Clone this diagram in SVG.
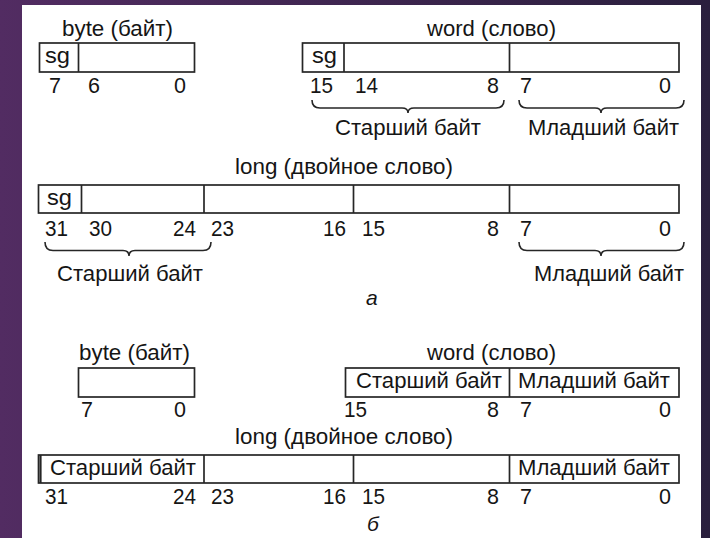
<svg xmlns="http://www.w3.org/2000/svg" width="710" height="538" viewBox="0 0 710 538">
<defs>
<linearGradient id="bg" x1="0" y1="0" x2="1" y2="0">
<stop offset="0" stop-color="#522c62"/>
<stop offset="1" stop-color="#2a1f3d"/>
</linearGradient>
<style>
.t{font-family:"Liberation Sans",Arial,sans-serif;font-size:22.5px;fill:#151515}
.n{font-family:"Liberation Sans",Arial,sans-serif;font-size:21.5px;fill:#151515}
.i{font-family:"Liberation Sans",Arial,sans-serif;font-size:21px;font-style:italic;fill:#151515}
.box{fill:#fff;stroke:#262626;stroke-width:1.7}
.div{stroke:#262626;stroke-width:1.7}
.br{fill:none;stroke:#262626;stroke-width:1.6}
</style>
</defs>
<rect x="0" y="0" width="710" height="538" fill="url(#bg)"/>
<rect x="22" y="5" width="679" height="533" fill="#fff"/>

<!-- part a -->
<g id="byte-a">
<text class="t" x="62" y="35.5" textLength="111" lengthAdjust="spacingAndGlyphs">byte (байт)</text>
<rect class="box" x="39.5" y="43" width="155" height="29"/>
<line class="div" x1="78.5" y1="43" x2="78.5" y2="72"/>
<text class="t" x="45" y="63" textLength="25" lengthAdjust="spacingAndGlyphs">sg</text>
<text class="n" x="49" y="93">7</text>
<text class="n" x="88" y="93">6</text>
<text class="n" x="174" y="93">0</text>
</g>

<g id="word-a">
<text class="t" x="427" y="35.5" textLength="129" lengthAdjust="spacingAndGlyphs">word (слово)</text>
<rect class="box" x="302.5" y="43" width="376.5" height="29"/>
<line class="div" x1="344" y1="43" x2="344" y2="72"/>
<line class="div" x1="509.5" y1="43" x2="509.5" y2="72"/>
<text class="t" x="312" y="63" textLength="25" lengthAdjust="spacingAndGlyphs">sg</text>
<text class="n" x="310" y="93" textLength="23" lengthAdjust="spacingAndGlyphs">15</text>
<text class="n" x="355" y="93" textLength="23" lengthAdjust="spacingAndGlyphs">14</text>
<text class="n" x="487" y="93">8</text>
<text class="n" x="520" y="93">7</text>
<text class="n" x="659" y="93">0</text>
<text class="t" x="335" y="135" textLength="146" lengthAdjust="spacingAndGlyphs">Старший байт</text>
<text class="t" x="528" y="135" textLength="151" lengthAdjust="spacingAndGlyphs">Младший байт</text>
</g>

<g id="long-a">
<text class="t" x="235" y="174" textLength="218" lengthAdjust="spacingAndGlyphs">long (двойное слово)</text>
<rect class="box" x="38.5" y="185" width="640.5" height="28"/>
<line class="div" x1="81.5" y1="185" x2="81.5" y2="213"/>
<line class="div" x1="204" y1="185" x2="204" y2="213"/>
<line class="div" x1="353.5" y1="185" x2="353.5" y2="213"/>
<line class="div" x1="509.5" y1="185" x2="509.5" y2="213"/>
<text class="t" x="47" y="205" textLength="25" lengthAdjust="spacingAndGlyphs">sg</text>
<text class="n" x="45" y="235.5" textLength="23" lengthAdjust="spacingAndGlyphs">31</text>
<text class="n" x="89" y="235.5" textLength="23" lengthAdjust="spacingAndGlyphs">30</text>
<text class="n" x="173" y="235.5" textLength="23" lengthAdjust="spacingAndGlyphs">24</text>
<text class="n" x="211" y="235.5" textLength="23" lengthAdjust="spacingAndGlyphs">23</text>
<text class="n" x="323" y="235.5" textLength="23" lengthAdjust="spacingAndGlyphs">16</text>
<text class="n" x="362" y="235.5" textLength="23" lengthAdjust="spacingAndGlyphs">15</text>
<text class="n" x="487" y="235.5">8</text>
<text class="n" x="520" y="235.5">7</text>
<text class="n" x="659" y="235.5">0</text>
<text class="t" x="57" y="281" textLength="146" lengthAdjust="spacingAndGlyphs">Старший байт</text>
<text class="t" x="534" y="281" textLength="150" lengthAdjust="spacingAndGlyphs">Младший байт</text>
</g>

<g id="connectors">
<path class="br" d="M312,100 Q312,108 320,108 L402,108 Q408,108 408,113 Q408,108 414,108 L496,108 Q504,108 504,100"/>
<path class="br" d="M519,100 Q519,108 527,108 L595,108 Q601,108 601,113 Q601,108 607,108 L676,108 Q684,108 684,100"/>
<path class="br" d="M45,242 Q45,250.5 53,250.5 L123,250.5 Q129,250.5 129,256 Q129,250.5 135,250.5 L203,250.5 Q211,250.5 211,242"/>
<path class="br" d="M519,242 Q519,250.5 527,250.5 L595,250.5 Q601,250.5 601,256 Q601,250.5 607,250.5 L676,250.5 Q684,250.5 684,242"/>
</g>

<text id="cap-a" class="i" x="366" y="305">а</text>

<!-- part b -->
<g id="byte-b">
<text class="t" x="79" y="360" textLength="111" lengthAdjust="spacingAndGlyphs">byte (байт)</text>
<rect class="box" x="78.5" y="368" width="116" height="29"/>
<text class="n" x="81" y="416.5">7</text>
<text class="n" x="174" y="416.5">0</text>
</g>

<g id="word-b">
<text class="t" x="427" y="360" textLength="129" lengthAdjust="spacingAndGlyphs">word (слово)</text>
<rect class="box" x="345.5" y="368" width="333.5" height="29"/>
<line class="div" x1="509.5" y1="368" x2="509.5" y2="397"/>
<text class="t" x="356" y="388" textLength="146" lengthAdjust="spacingAndGlyphs">Старший байт</text>
<text class="t" x="518" y="388" textLength="152" lengthAdjust="spacingAndGlyphs">Младший байт</text>
<text class="n" x="344" y="416.5" textLength="23" lengthAdjust="spacingAndGlyphs">15</text>
<text class="n" x="487" y="416.5">8</text>
<text class="n" x="520" y="416.5">7</text>
<text class="n" x="659" y="416.5">0</text>
</g>

<g id="long-b">
<text class="t" x="235" y="444" textLength="218" lengthAdjust="spacingAndGlyphs">long (двойное слово)</text>
<rect class="box" x="38.5" y="455" width="640.5" height="28"/>
<line x1="40.5" y1="455" x2="40.5" y2="483" stroke="#262626" stroke-width="2.2"/>
<line class="div" x1="204" y1="455" x2="204" y2="483"/>
<line class="div" x1="353.5" y1="455" x2="353.5" y2="483"/>
<line class="div" x1="509.5" y1="455" x2="509.5" y2="483"/>
<text class="t" x="50" y="475" textLength="146" lengthAdjust="spacingAndGlyphs">Старший байт</text>
<text class="t" x="518" y="475" textLength="152" lengthAdjust="spacingAndGlyphs">Младший байт</text>
<text class="n" x="45" y="504" textLength="23" lengthAdjust="spacingAndGlyphs">31</text>
<text class="n" x="173" y="504" textLength="23" lengthAdjust="spacingAndGlyphs">24</text>
<text class="n" x="211" y="504" textLength="23" lengthAdjust="spacingAndGlyphs">23</text>
<text class="n" x="323" y="504" textLength="23" lengthAdjust="spacingAndGlyphs">16</text>
<text class="n" x="362" y="504" textLength="23" lengthAdjust="spacingAndGlyphs">15</text>
<text class="n" x="487" y="504">8</text>
<text class="n" x="520" y="504">7</text>
<text class="n" x="659" y="504">0</text>
</g>

<text id="cap-b" class="i" x="367" y="531">б</text>
</svg>
